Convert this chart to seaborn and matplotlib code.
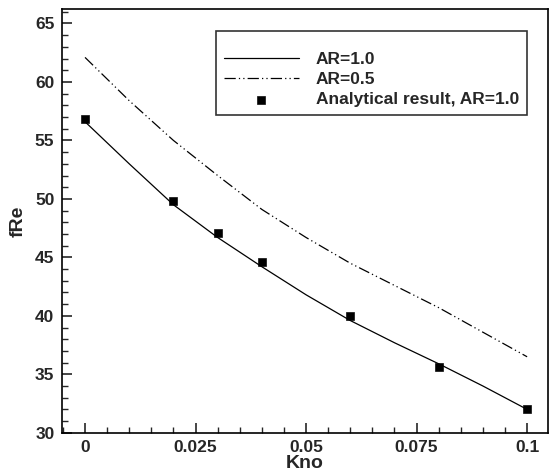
import numpy as np
import pandas as pd
import matplotlib
matplotlib.use("Agg")
from matplotlib import pyplot as plt
from matplotlib.ticker import MultipleLocator
import seaborn as sns

# Kno values
kno_line = [0.0, 0.01, 0.02, 0.03, 0.04, 0.05, 0.06, 0.07, 0.08, 0.09, 0.1]
# fRe, AR=1.0 (solid line)
fre_ar10 = [56.6, 53.0, 49.5, 46.7, 44.2, 41.8, 39.6, 37.7, 35.9, 34.0, 32.0]
# fRe, AR=0.5 (dash-dot line)
fre_ar05 = [62.1, 58.4, 55.0, 52.0, 49.1, 46.7, 44.5, 42.6, 40.7, 38.6, 36.5]
# analytical result AR=1.0
kno_pts = [0.0, 0.02, 0.03, 0.04, 0.06, 0.08, 0.1]
fre_pts = [56.8, 49.8, 47.1, 44.6, 40.0, 35.6, 32.0]

sns.set_style("ticks")
plt.rcParams['font.family'] = ['Liberation Sans', 'DejaVu Sans']
plt.rcParams['font.weight'] = 'bold'

fig = plt.figure(figsize=(5.49, 4.73), dpi=100)
ax = fig.add_axes([0.113, 0.085, 0.885, 0.895])

df1 = pd.DataFrame({"Kno": kno_line, "fRe": fre_ar10})
df2 = pd.DataFrame({"Kno": kno_line, "fRe": fre_ar05})
dfp = pd.DataFrame({"Kno": kno_pts, "fRe": fre_pts})

sns.lineplot(data=df1, x="Kno", y="fRe", ax=ax, color="black", linewidth=0.9, label="AR=1.0")
sns.lineplot(data=df2, x="Kno", y="fRe", ax=ax, color="black", linewidth=0.9, label="AR=0.5")
ax.lines[-1].set_dashes([9, 2.5, 1, 2.5, 1, 2.5])
sns.scatterplot(data=dfp, x="Kno", y="fRe", ax=ax, color="black", marker="s", s=32,
                edgecolor="black", label="Analytical result, AR=1.0", zorder=5)

ax.set_xlim(-0.0052, 0.1047)
ax.set_ylim(30, 66.2)
ax.xaxis.set_minor_locator(MultipleLocator(0.005))
ax.yaxis.set_major_locator(MultipleLocator(5))
ax.yaxis.set_minor_locator(MultipleLocator(1))
ax.set_xticks([0, 0.025, 0.05, 0.075, 0.1])
ax.set_xticklabels(["0", "0.025", "0.05", "0.075", "0.1"])
ax.tick_params(which="major", direction="in", length=7.2, width=1.2, labelsize=12.5)
ax.tick_params(axis="x", which="major", pad=5)
ax.tick_params(axis="y", which="major", pad=5.5)
ax.tick_params(which="minor", direction="in", length=4.3, width=1)
for lab in ax.get_xticklabels() + ax.get_yticklabels():
    lab.set_fontweight("bold")

for s in ax.spines.values():
    s.set_linewidth(1.2)
    s.set_color("black")

ax.set_xlabel("Kno", fontsize=14, fontweight="bold", labelpad=0)
ax.set_ylabel("fRe", fontsize=14, fontweight="bold", labelpad=6)

# blank title gives the extra space above the first row, as in the original
leg = ax.legend(loc="upper right", bbox_to_anchor=(0.957, 0.948), frameon=True, fancybox=False,
                edgecolor="black", fontsize=12.5, handlelength=4.3, handletextpad=1.0,
                borderpad=0.45, labelspacing=0.3, borderaxespad=0,
                title=" ", title_fontsize=6)
leg.get_frame().set_linewidth(1.2)
for t in leg.get_texts():
    t.set_fontweight("bold")

fig.savefig("out.png", dpi=100)
